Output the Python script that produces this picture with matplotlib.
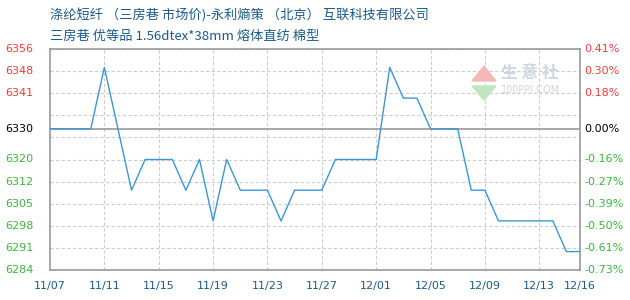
import matplotlib
matplotlib.use('Agg')
import matplotlib.pyplot as plt
import numpy as np
from datetime import date

plt.rcParams['font.family'] = ['Noto Sans CJK SC', 'DejaVu Sans']

title1 = '涤纶短纤 （三房巷 市场价)-永利熵策 （北京） 互联科技有限公司'
title2 = '三房巷 优等品 1.56dtex*38mm 熔体直纺 棉型'

days = ['11-07', '11-10', '11-11', '11-13', '11-14', '11-16', '11-17', '11-18',
        '11-19', '11-20', '11-21', '11-23', '11-24', '11-25', '11-27', '11-28',
        '12-01', '12-02', '12-03', '12-04', '12-05', '12-07', '12-08', '12-09',
        '12-10', '12-14', '12-15', '12-16']
prices = [6330, 6330, 6350, 6310, 6320, 6320, 6310, 6320,
          6300, 6320, 6310, 6310, 6300, 6310, 6310, 6320,
          6320, 6350, 6340, 6340, 6330, 6330, 6310, 6310,
          6300, 6300, 6290, 6290]
base = 6330
ymin, ymax = 6284, 6356
xlabels = ['11-07', '11-11', '11-15', '11-19', '11-23', '11-27', '12-01',
           '12-05', '12-09', '12-13', '12-16']

def to_date(s):
    m, d = s.split('-')
    return date(2022, int(m), int(d))

x = [to_date(s) for s in days]
xt = [to_date(s) for s in xlabels]

fig = plt.figure(figsize=(6.3, 3.0), dpi=100)
ax = fig.add_axes([50/630, 30/300, 530/630, 221/300])

ax.plot(x, prices, color='#3a96d6', lw=1.0, zorder=3)
ax.axhline(base, color='#999999', lw=1.2, zorder=2)

ax.set_xlim(xt[0], xt[-1])
ax.set_ylim(ymin, ymax)

yt = np.linspace(ymin, ymax, 11)
for v in yt:
    ax.axhline(v, color='#cccccc', lw=0.8, ls=(0, (3, 2)), zorder=1)
for d in xt[1:-1]:
    ax.axvline(d, color='#cccccc', lw=0.8, ls=(0, (3, 2)), zorder=1)

ax.set_yticks([])
ax.set_xticks(xt)
ax.set_xticklabels([s.replace('-', '/') for s in xlabels], color='#1b5a8a', fontsize=8,
                   family='DejaVu Sans')
ax.tick_params(axis='x', length=0, pad=8)

def col(v):
    if abs(v - base) < 1e-6:
        return 'black'
    return '#f03c3c' if v > base else '#3cb43c'

trans = ax.get_yaxis_transform()
for v in list(yt) + [base]:
    if abs(v - base) < 5 and v != base:
        continue
    ax.text(-45/530, v, str(int(v)), transform=trans, ha='left', va='center',
            fontsize=8, color=col(v), family='DejaVu Sans')
    pct = (v - base) / base * 100
    ax.text(1.008, v, '%.2f%%' % pct if pct < 0 else '%.2f%%' % abs(pct),
            transform=trans, ha='left', va='center', fontsize=8, color=col(v),
            family='DejaVu Sans')

for s in ax.spines.values():
    s.set_color('#999999')
    s.set_linewidth(1.2)

fig.text(50/630, 1 - 16/300, title1, fontsize=9.5, color='#1b5a8a', va='center')
fig.text(50/630, 1 - 36/300, title2, fontsize=9.5, color='#1b5a8a', va='center')

# watermark
fig.text(501/630, 1 - 73/300, '生 意 社', fontsize=12, color='#cfd6e2', va='center',
         ha='left', fontweight='bold')
fig.text(501/630, 1 - 90/300, '100PPI.COM', fontsize=7, color='#d4d4d4', va='center',
         ha='left', family='DejaVu Sans')
fig.patches.append(plt.Polygon([[472/630, 1 - 81/300], [496/630, 1 - 81/300], [484/630, 1 - 66/300]],
                               closed=True, color='#f4b8b8', transform=fig.transFigure))
fig.patches.append(plt.Polygon([[472/630, 1 - 86/300], [496/630, 1 - 86/300], [484/630, 1 - 100/300]],
                               closed=True, color='#bfe6bf', transform=fig.transFigure))

fig.savefig('out.png', dpi=100)
